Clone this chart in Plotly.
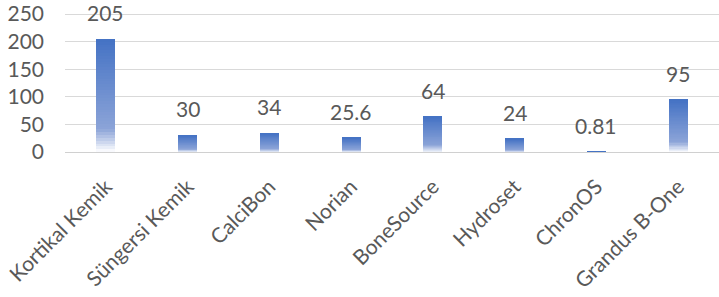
import plotly.graph_objects as go

categories = ["Kortikal Kemik", "Süngersi Kemik", "CalciBon", "Norian",
              "BoneSource", "Hydroset", "ChronOS", "Grandus B-One"]
values = [205, 30, 34, 25.6, 64, 24, 0.81, 95]
labels = ["205", "30", "34", "25.6", "64", "24", "0.81", "95"]
y_ticks = [0, 50, 100, 150, 200, 250]

FONT = "Lato, Calibri, sans-serif"
TEXT_COLOR = "#595959"

# gradient stops (t from bottom=0 to top=1)
stops = [(0.0, (255, 255, 255)), (0.2, (140, 164, 216)), (1.0, (68, 114, 196))]


def color_at(t):
    for (t0, c0), (t1, c1) in zip(stops[:-1], stops[1:]):
        if t <= t1:
            f = (t - t0) / (t1 - t0) if t1 > t0 else 0
            c = [round(a + (b - a) * f) for a, b in zip(c0, c1)]
            return f"rgb({c[0]},{c[1]},{c[2]})"
    c = stops[-1][1]
    return f"rgb({c[0]},{c[1]},{c[2]})"


N = 40
fig = go.Figure()
for k in range(N):
    t = (k + 0.5) / N
    fig.add_trace(go.Bar(
        x=categories,
        y=[v / N for v in values],
        marker=dict(color=color_at(t), line=dict(width=0)),
        showlegend=False,
        hoverinfo="skip",
    ))

for c, v, lab in zip(categories, values, labels):
    fig.add_annotation(x=c, y=v, text=lab, showarrow=False, yanchor="bottom",
                       yshift=12, font=dict(family=FONT, size=21, color=TEXT_COLOR))

fig.update_layout(
    width=719, height=297,
    barmode="stack", bargap=0.77,
    margin=dict(l=65, r=0, t=11, b=145),
    paper_bgcolor="white", plot_bgcolor="white",
    font=dict(family=FONT, size=21, color=TEXT_COLOR),
    xaxis=dict(tickangle=-45, showgrid=False, showline=True, linecolor="#D0D0D0",
               linewidth=1, ticks="", ticklabelstandoff=13,
               tickfont=dict(family=FONT, size=21, color=TEXT_COLOR)),
    yaxis=dict(range=[0, 252], tickvals=y_ticks, showgrid=True, gridcolor="#D9D9D9",
               gridwidth=1, zeroline=False, showline=False, ticks="",
               ticklabelstandoff=20, ticklabeloverflow="allow",
               tickfont=dict(family=FONT, size=21, color=TEXT_COLOR)),
)

fig.write_html("out.html", config={"displayModeBar": False},
               post_script="document.body.style.margin='0';")
